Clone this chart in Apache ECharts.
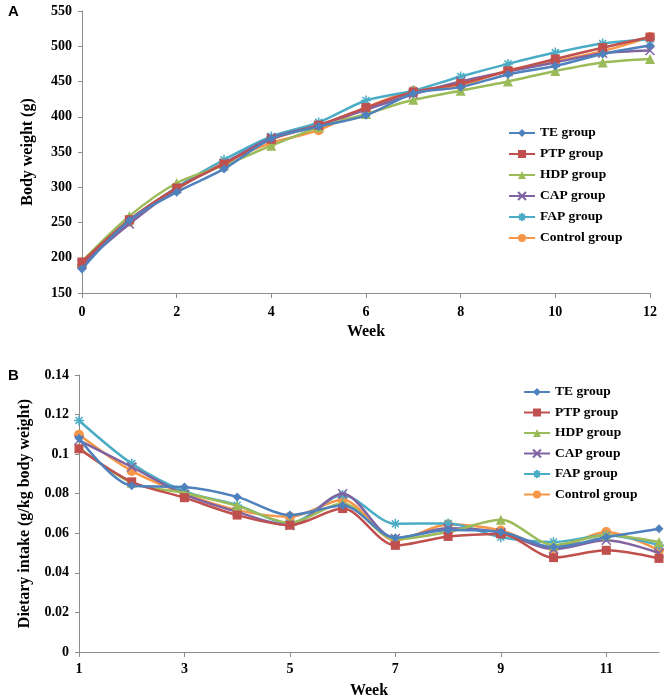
<!DOCTYPE html>
<html>
<head>
<meta charset="utf-8">
<script src="https://cdn.jsdelivr.net/npm/echarts@6/dist/echarts.min.js"></script>
<style>
  html, body { margin: 0; padding: 0; background: #fff; }
  #chart { width: 668px; height: 700px; }
</style>
</head>
<body>
<div id="chart"></div>
<script>
// groups and colours
var groups = ['TE group', 'PTP group', 'HDP group', 'CAP group', 'FAP group', 'Control group'];
var colors = ['#4F81BD', '#C0504D', '#9BBB59', '#8064A2', '#4BACC6', '#F79646'];

// panel A: body weight (g), weeks 0..12
var weeksA = ['0','1','2','3','4','5','6','7','8','9','10','11','12'];
var weightTE      = [184, 253, 293, 326, 369, 386, 402, 433, 442, 460, 472, 489, 501];
var weightPTP     = [194, 254, 299, 333, 368, 388, 413, 435, 447, 465, 482, 498, 513];
var weightHDP     = [195, 259, 306, 331, 359, 385, 404, 424, 437, 450, 465, 477, 482];
var weightCAP     = [191, 248, 298, 334, 370, 388, 410, 432, 450, 464, 477, 490, 494];
var weightFAP     = [190, 252, 300, 339, 372, 392, 423, 437, 457, 475, 491, 504, 510];
var weightControl = [189, 251, 297, 335, 363, 381, 413, 437, 444, 466, 479, 493, 513];

// panel B: dietary intake (g/kg body weight), weeks 1..12
var weeksB = ['1','2','3','4','5','6','7','8','9','10','11','12'];
var intakeTE      = [0.108, 0.084, 0.0834, 0.0784, 0.0692, 0.074, 0.0578, 0.0616, 0.0606, 0.053, 0.058, 0.0623];
var intakePTP     = [0.1027, 0.086, 0.078, 0.0692, 0.0641, 0.0725, 0.0539, 0.0584, 0.0597, 0.0477, 0.0514, 0.0473];
var intakeHDP     = [0.1032, 0.0855, 0.0804, 0.0739, 0.0653, 0.075, 0.057, 0.0606, 0.0668, 0.054, 0.059, 0.0556];
var intakeCAP     = [0.107, 0.0935, 0.0797, 0.0708, 0.064, 0.080, 0.0574, 0.0625, 0.0603, 0.052, 0.0565, 0.050];
var intakeFAP     = [0.117, 0.0952, 0.0812, 0.0742, 0.065, 0.0792, 0.0648, 0.065, 0.058, 0.0556, 0.059, 0.054];
var intakeControl = [0.1098, 0.0915, 0.080, 0.0717, 0.0683, 0.077, 0.0564, 0.0644, 0.0614, 0.0525, 0.0606, 0.0514];

var dataA = [weightTE, weightPTP, weightHDP, weightCAP, weightFAP, weightControl];
var dataB = [intakeTE, intakePTP, intakeHDP, intakeCAP, intakeFAP, intakeControl];

var crossPath = 'path://M0,0L10,10M10,0L0,10';
var starPath = 'path://M0,5L10,5M5,0L5,10M1.5,1.5L8.5,8.5M8.5,1.5L1.5,8.5';
var symbols = ['diamond', 'rect', 'triangle', crossPath, starPath, 'circle'];
var symbolSizes = [9, 9, 10, 9, 10, 10];

var serif = '"Liberation Serif", "Times New Roman", serif';
var axisGrey = '#8c8c8c';

function makeSeries(data, idx) {
    return data.map(function (vals, i) {
        var stroked = i === 3 || i === 4;
        return {
            name: groups[i],
            type: 'line',
            xAxisIndex: idx,
            yAxisIndex: idx,
            data: vals,
            smooth: 0.3,
            symbol: symbols[i],
            symbolSize: symbolSizes[i],
            showAllSymbol: true,
            lineStyle: { width: 2.5, color: colors[i] },
            itemStyle: {
                color: colors[i],
                borderColor: colors[i],
                borderWidth: stroked ? 1.5 : 0
            },
            emphasis: { disabled: true },
            z: 10 - i
        };
    });
}

var labelStyle = { fontFamily: serif, fontWeight: 'bold', fontSize: 14, color: '#000' };
var legendText = { fontFamily: serif, fontWeight: 'bold', fontSize: 13.5, color: '#000', lineHeight: 14 };

var chart = echarts.init(document.getElementById('chart'), null, { renderer: 'canvas' });

var option = {
    animation: false,
    backgroundColor: '#fff',
    graphic: [
        { type: 'text', left: 8, top: 4, style: { text: 'A', font: 'bold 15px "Liberation Sans", Arial, sans-serif', fill: '#000' } },
        { type: 'text', left: 8, top: 368, style: { text: 'B', font: 'bold 15px "Liberation Sans", Arial, sans-serif', fill: '#000' } }
    ],
    grid: [
        { left: 82, top: 11, width: 568, height: 282 },
        { left: 79, top: 375, width: 580, height: 277 }
    ],
    legend: [
        {
            data: groups,
            orient: 'vertical',
            left: 508,
            top: 126,
            padding: 0,
            itemWidth: 26,
            itemHeight: 10,
            itemGap: 7,
            textStyle: legendText
        },
        {
            data: groups,
            orient: 'vertical',
            left: 523,
            top: 385,
            padding: 0,
            itemWidth: 26,
            itemHeight: 10,
            itemGap: 6.5,
            textStyle: legendText
        }
    ],
    xAxis: [
        {
            gridIndex: 0,
            type: 'category',
            data: weeksA,
            boundaryGap: false,
            name: 'Week',
            nameLocation: 'middle',
            nameGap: 31,
            nameTextStyle: { fontFamily: serif, fontWeight: 'bold', fontSize: 16, color: '#000' },
            axisLine: { lineStyle: { color: axisGrey, width: 1 } },
            axisTick: { interval: 1, length: 5, inside: false, lineStyle: { color: axisGrey } },
            axisLabel: Object.assign({ interval: 1, margin: 12 }, labelStyle),
            splitLine: { show: false }
        },
        {
            gridIndex: 1,
            type: 'category',
            data: weeksB,
            boundaryGap: false,
            name: 'Week',
            nameLocation: 'middle',
            nameGap: 31,
            nameTextStyle: { fontFamily: serif, fontWeight: 'bold', fontSize: 16, color: '#000' },
            axisLine: { lineStyle: { color: axisGrey, width: 1 } },
            axisTick: { interval: 1, length: 5, lineStyle: { color: axisGrey } },
            axisLabel: Object.assign({ interval: 1, margin: 10 }, labelStyle),
            splitLine: { show: false }
        }
    ],
    yAxis: [
        {
            gridIndex: 0,
            type: 'value',
            min: 150,
            max: 550,
            interval: 50,
            name: 'Body weight (g)',
            nameLocation: 'middle',
            nameGap: 46,
            nameTextStyle: { fontFamily: serif, fontWeight: 'bold', fontSize: 16, color: '#000' },
            axisLine: { show: true, lineStyle: { color: axisGrey, width: 1 } },
            axisTick: { show: true, length: 4, lineStyle: { color: axisGrey } },
            axisLabel: Object.assign({ margin: 10 }, labelStyle),
            splitLine: { show: false }
        },
        {
            gridIndex: 1,
            type: 'value',
            min: 0,
            max: 0.14,
            interval: 0.02,
            name: 'Dietary intake (g/kg body weight)',
            nameLocation: 'middle',
            nameGap: 46,
            nameTextStyle: { fontFamily: serif, fontWeight: 'bold', fontSize: 16, color: '#000' },
            axisLine: { show: true, lineStyle: { color: axisGrey, width: 1 } },
            axisTick: { show: true, length: 4, lineStyle: { color: axisGrey } },
            axisLabel: Object.assign({ margin: 10 }, labelStyle),
            splitLine: { show: false }
        }
    ],
    series: makeSeries(dataA, 0).concat(makeSeries(dataB, 1))
};

chart.setOption(option);
window.addEventListener('resize', chart.resize);
</script>
</body>
</html>
